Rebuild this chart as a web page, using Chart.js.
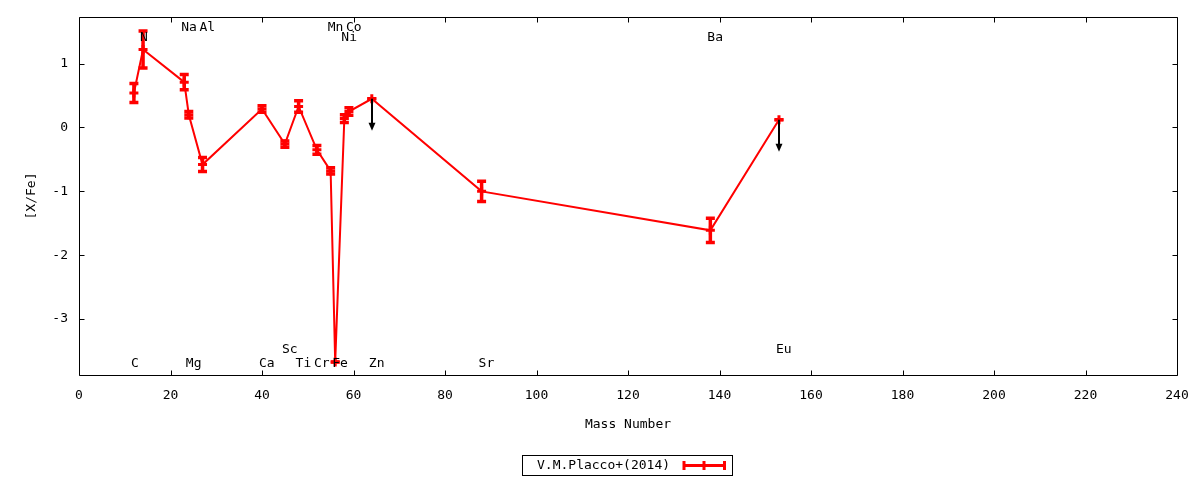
<!DOCTYPE html>
<html><head><meta charset="utf-8">
<script src="https://cdn.jsdelivr.net/npm/chart.js@4.4.0/dist/chart.umd.min.js"></script>
<style>html,body{margin:0;padding:0;background:#fff;}canvas{display:block;}</style>
</head><body>
<canvas id="c" width="1200" height="480"></canvas>
<script>
// ---- data ----
const elements    = ['C','N','Na','Mg','Al','Ca','Sc','Ti','Cr','Mn','Fe','Ni','Co','Zn','Sr','Ba','Eu'];
const massNumbers = [12, 14, 23, 24, 27, 40, 45, 48, 52, 55, 56, 58, 59, 64, 88, 138, 153];
const xFeValues   = [0.54, 1.22, 0.71, 0.20, -0.58, 0.29, -0.26, 0.33, -0.35, -0.68, -3.67, 0.14, 0.25, 0.45, -1.00, -1.61, 0.12];
const xFeErrors   = [0.15, 0.29, 0.12, 0.05, 0.11, 0.05, 0.05, 0.09, 0.07, 0.05, 0.00, 0.06, 0.06, 0.00, 0.16, 0.19, 0.00];
const upperLimits = [false,false,false,false,false,false,false,false,false,false,false,false,false,true,false,false,true];
const labelRows   = [3, 1, 0, 3, 0, 3, 2, 3, 3, 0, 3, 1, 0, 3, 3, 1, 2];
const xTickValues = [0,20,40,60,80,100,120,140,160,180,200,220,240];
const yTickValues = [-3,-2,-1,0,1];
const seriesName  = 'V.M.Placco+(2014)';
const xTitle = 'Mass Number';
const yTitle = '[X/Fe]';

// ---- styling ----
const FONT = {family:'"DejaVu Sans Mono", monospace', size:13};
const FONT_CSS = '13px "DejaVu Sans Mono", monospace';
const RED = '#ff0000';
const TXT = '#000000';

const points = massNumbers.map((m,i)=>({x:m, y:xFeValues[i]}));

const framePlugin = {
  id:'frame',
  afterDatasetsDraw(chart){
    const {ctx, chartArea:a, scales:{x,y}} = chart;
    ctx.save();
    ctx.strokeStyle='#000'; ctx.lineWidth=1;
    const L=Math.round(a.left)+0.5, R=Math.round(a.right)+0.5, T=Math.round(a.top)+0.5, B=Math.round(a.bottom)+0.5;
    ctx.beginPath();
    ctx.rect(L,T,R-L,B-T);
    const tl=5;
    xTickValues.forEach(v=>{
      const px=Math.round(x.getPixelForValue(v))+0.5;
      ctx.moveTo(px,B); ctx.lineTo(px,B-tl);
      ctx.moveTo(px,T); ctx.lineTo(px,T+tl);
    });
    yTickValues.forEach(v=>{
      const py=Math.round(y.getPixelForValue(v))+0.5;
      ctx.moveTo(L,py); ctx.lineTo(L+tl,py);
      ctx.moveTo(R,py); ctx.lineTo(R-tl,py);
    });
    ctx.stroke();
    ctx.restore();
  }
};

const errorBarPlugin = {
  id:'errbars',
  beforeDatasetsDraw(chart){
    const {ctx, scales:{x,y}} = chart;
    ctx.save();
    ctx.strokeStyle=RED;
    massNumbers.forEach((m,i)=>{
      const px=x.getPixelForValue(m);
      const pt=y.getPixelForValue(xFeValues[i]+xFeErrors[i]);
      const pb=y.getPixelForValue(xFeValues[i]-xFeErrors[i]);
      ctx.lineWidth=3.5;
      ctx.beginPath();
      ctx.moveTo(px,pt); ctx.lineTo(px,pb);
      ctx.moveTo(px-4.5,pt); ctx.lineTo(px+4.5,pt);
      ctx.moveTo(px-4.5,pb); ctx.lineTo(px+4.5,pb);
      ctx.stroke();
    });
    ctx.restore();
  }
};

const arrowPlugin = {
  id:'limits',
  afterDatasetsDraw(chart){
    const {ctx, scales:{x,y}} = chart;
    ctx.save();
    ctx.strokeStyle='#000'; ctx.fillStyle='#000'; ctx.lineWidth=2;
    massNumbers.forEach((m,i)=>{
      if(!upperLimits[i]) return;
      const px=Math.round(x.getPixelForValue(m));
      const p0=y.getPixelForValue(xFeValues[i]);
      const p1=y.getPixelForValue(xFeValues[i]-0.5);
      ctx.beginPath(); ctx.moveTo(px,p0); ctx.lineTo(px,p1-6); ctx.stroke();
      ctx.beginPath(); ctx.moveTo(px-3.5,p1-8); ctx.lineTo(px+3.5,p1-8); ctx.lineTo(px,p1); ctx.closePath(); ctx.fill();
    });
    ctx.restore();
  }
};

const labelPlugin = {
  id:'elemLabels',
  afterDatasetsDraw(chart){
    const {ctx, chartArea:a, scales:{x}} = chart;
    const rowY=[a.top+10.5, a.top+20.5, a.bottom-25, a.bottom-11.5];
    ctx.save();
    ctx.font=FONT_CSS; ctx.fillStyle=TXT; ctx.textAlign='left'; ctx.textBaseline='middle';
    elements.forEach((e,i)=>{
      ctx.fillText(e, x.getPixelForValue(massNumbers[i])-3, rowY[labelRows[i]]);
    });
    ctx.restore();
  }
};

const legendPlugin = {
  id:'keyBox',
  afterDraw(chart){
    const {ctx} = chart;
    ctx.save();
    ctx.strokeStyle='#000'; ctx.lineWidth=1;
    ctx.strokeRect(522.5,455.5,210,20);
    ctx.font=FONT_CSS; ctx.fillStyle=TXT; ctx.textAlign='left'; ctx.textBaseline='middle';
    ctx.fillText(seriesName,537,466);
    ctx.strokeStyle=RED; ctx.lineWidth=3;
    ctx.beginPath();
    ctx.moveTo(683,465.5); ctx.lineTo(725,465.5);
    ctx.moveTo(684,461); ctx.lineTo(684,470);
    ctx.moveTo(724.5,461); ctx.lineTo(724.5,470);
    ctx.moveTo(704,461); ctx.lineTo(704,470);
    ctx.stroke();
    ctx.restore();
  }
};

new Chart(document.getElementById('c'), {
  type:'scatter',
  data:{datasets:[{
    label:seriesName, data:points, showLine:true,
    borderColor:RED, backgroundColor:RED, borderWidth:2, tension:0,
    pointStyle:'cross', pointRadius:4.5, pointBorderWidth:3, pointBorderColor:RED,
    clip:false
  }]},
  options:{
    responsive:false, animation:false, devicePixelRatio:1,
    layout:{padding:{left:0, top:17, right:23, bottom:0}},
    plugins:{legend:{display:false}, tooltip:{enabled:false}},
    scales:{
      x:{type:'linear', min:0, max:240,
        afterBuildTicks:s=>{s.ticks=xTickValues.map(v=>({value:v}));},
        grid:{display:false, drawTicks:false}, border:{display:false},
        ticks:{font:FONT, color:TXT, padding:13, maxRotation:0, autoSkip:false},
        title:{display:true, text:xTitle, font:FONT, color:TXT, padding:{top:0,bottom:48}},
        afterFit:s=>{s.height=105; s.paddingLeft=0; s.paddingRight=0;}
      },
      y:{type:'linear', min:-3.875, max:1.73,
        afterBuildTicks:s=>{s.ticks=yTickValues.map(v=>({value:v}));},
        grid:{display:false, drawTicks:false}, border:{display:false},
        ticks:{font:FONT, color:TXT, padding:11},
        title:{display:true, text:yTitle, font:FONT, color:TXT, padding:{top:24,bottom:0}},
        afterFit:s=>{s.width=79; s.paddingTop=0; s.paddingBottom=0;}
      }
    }
  },
  plugins:[errorBarPlugin, framePlugin, arrowPlugin, labelPlugin, legendPlugin]
});
</script>
</body></html>
